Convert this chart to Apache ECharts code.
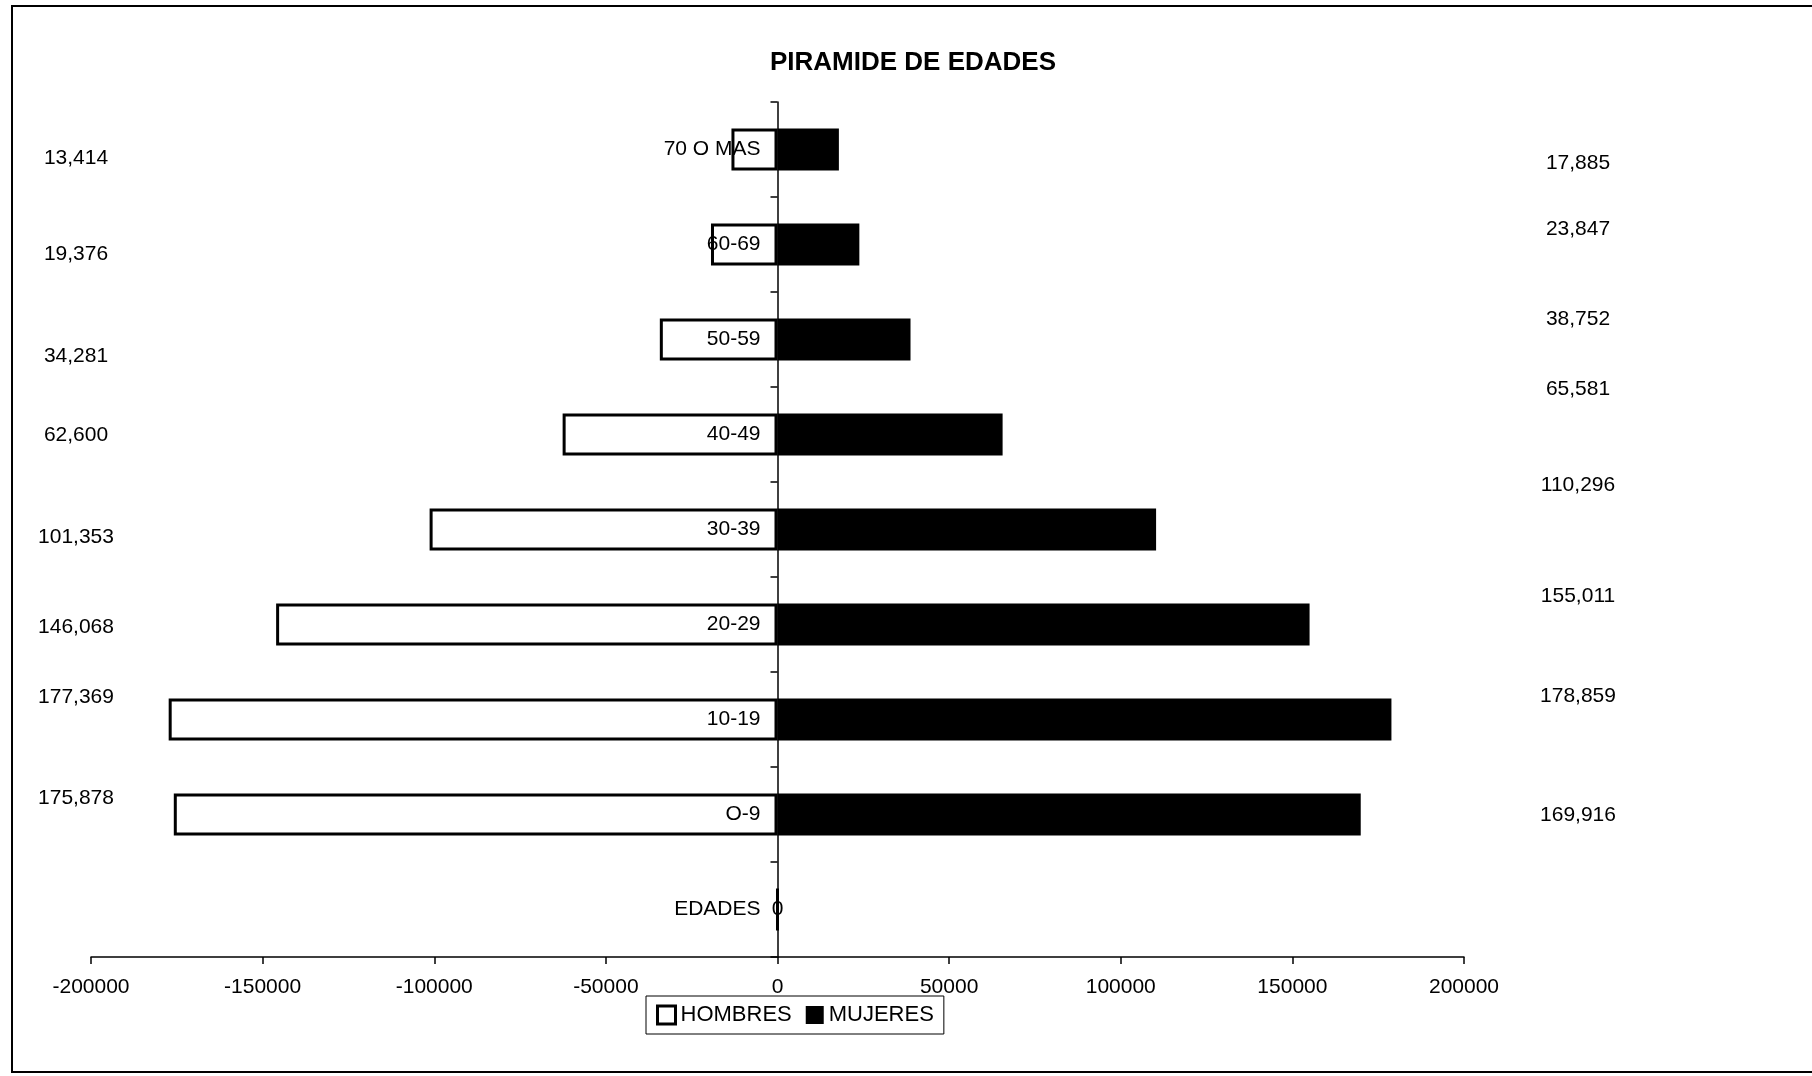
<!DOCTYPE html>
<html>
<head>
<meta charset="utf-8">
<title>Piramide de edades</title>
<script src="https://cdn.jsdelivr.net/npm/echarts@6/dist/echarts.min.js"></script>
<style>
  html, body { margin: 0; padding: 0; background: #fff; }
  #chart { width: 1812px; height: 1076px; }
</style>
</head>
<body>
<div id="chart"></div>
<script>
// bottom to top, as the category axis draws them
const ageGroups = ['EDADES', 'O-9', '10-19', '20-29', '30-39', '40-49', '50-59', '60-69', '70 O MAS'];
const hombres = [0, 175878, 177369, 146068, 101353, 62600, 34281, 19376, 13414];
const mujeres = [0, 169916, 178859, 155011, 110296, 65581, 38752, 23847, 17885];
const xTicks = [-200000, -150000, -100000, -50000, 0, 50000, 100000, 150000, 200000];

// the count labels in the original sit a little off each row
const leftShift = [0, -16, -22, 3, 8, 1, 17, 10, 9];
const rightShift = [0, 1, -23, -28, -44, -45, -20, -15, 14];

const FONT = "'Liberation Sans', Arial, sans-serif";
const SIZE = 21;
const chart = echarts.init(document.getElementById('chart'));

const option = {
  animation: false,
  textStyle: { fontFamily: FONT, color: '#000' },
  title: {
    text: 'PIRAMIDE DE EDADES',
    left: 765,
    top: 45,
    textStyle: { fontFamily: FONT, fontSize: 26, fontWeight: 'bold', color: '#000' },
  },
  legend: {
    left: 646,
    top: 996,
    padding: [8, 10],
    itemGap: 14,
    itemWidth: 18,
    itemHeight: 18,
    icon: 'rect',
    borderColor: '#000',
    borderWidth: 1,
    textStyle: { fontFamily: FONT, fontSize: 22, color: '#000' },
    data: [
      { name: 'HOMBRES', itemStyle: { color: '#fff', borderColor: '#000', borderWidth: 3 } },
      { name: 'MUJERES', itemStyle: { color: '#000' } },
    ],
  },
  grid: { left: 91, right: 348, top: 102, bottom: 119, outerBoundsMode: 'none' },
  xAxis: {
    type: 'value',
    min: xTicks[0],
    max: xTicks[xTicks.length - 1],
    interval: 50000,
    splitLine: { show: false },
    axisLine: { show: true, onZero: false, lineStyle: { color: '#000', width: 1.5 } },
    axisTick: { show: true, length: 7, lineStyle: { color: '#000', width: 1.5 } },
    axisLabel: {
      fontFamily: FONT,
      fontSize: 21,
      color: '#000',
      margin: 20,
      formatter: (v) => String(v),
    },
  },
  yAxis: {
    type: 'category',
    data: ageGroups,
    z: 10,
    axisLine: { show: true, onZero: false, lineStyle: { color: '#000', width: 1.5 } },
    axisTick: { show: true, length: 7, lineStyle: { color: '#000', width: 1.5 } },
    axisLabel: { fontFamily: FONT, fontSize: SIZE, color: '#000', margin: 17 },
  },
  series: [
    {
      name: 'HOMBRES',
      type: 'bar',
      barWidth: 42,
      barGap: '-100%',
      data: hombres.map((v) => -v),
      itemStyle: { color: '#fff', borderColor: '#000', borderWidth: 3 },
    },
    {
      name: 'MUJERES',
      type: 'bar',
      barWidth: 42,
      data: mujeres.map((v, i) =>
        i === 0
          ? { value: v, label: { show: true, position: 'inside', formatter: '0', fontSize: SIZE, color: '#000' } }
          : v
      ),
      itemStyle: { color: '#000' },
    },
  ],
};

chart.setOption(option);

// move the category axis onto the zero of the value axis
const zeroX = chart.convertToPixel({ xAxisIndex: 0 }, 0);
const gridLeft = chart.getModel().getComponent('grid').coordinateSystem.getRect().x;

// counts written beside the plot, one per row on each side
const fmt = (v) => v.toLocaleString('en-US');
const counts = [];
ageGroups.forEach((g, i) => {
  if (!hombres[i]) return;
  const y = chart.convertToPixel({ yAxisIndex: 0 }, g);
  counts.push({
    type: 'text',
    x: 76,
    y: y + leftShift[i],
    style: { text: fmt(hombres[i]), font: `${SIZE}px ${FONT}`, fill: '#000', align: 'center', verticalAlign: 'middle' },
  });
  counts.push({
    type: 'text',
    x: 1578,
    y: y + rightShift[i],
    style: { text: fmt(mujeres[i]), font: `${SIZE}px ${FONT}`, fill: '#000', align: 'center', verticalAlign: 'middle' },
  });
});

chart.setOption({
  yAxis: { offset: gridLeft - zeroX },
  graphic: [
    {
      type: 'rect',
      shape: { x: 12, y: 6, width: 1830, height: 1066 },
      style: { fill: 'none', stroke: '#000', lineWidth: 2 },
      silent: true,
    },
    ...counts,
  ],
});

window.addEventListener('resize', () => chart.resize());
</script>
</body>
</html>
